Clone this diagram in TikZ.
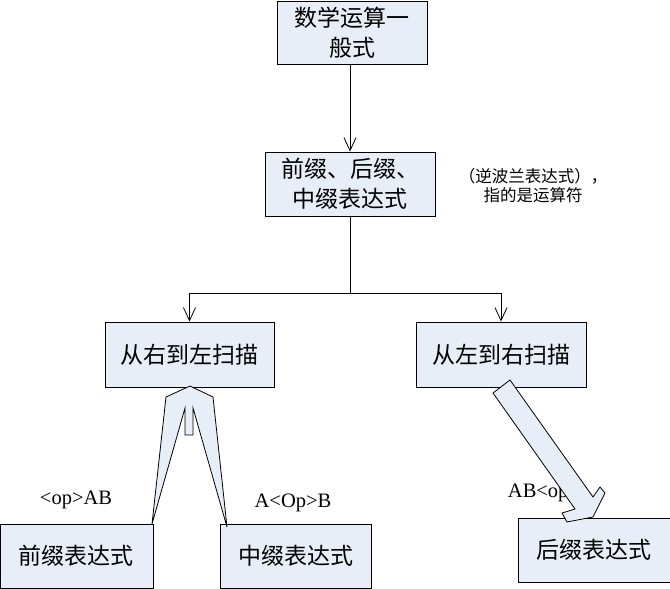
\documentclass[tikz,border=0pt]{standalone}
\usepackage{fontspec}
\setmainfont{Liberation Serif}
\newfontfamily\cjk{Noto Sans CJK SC}
\usetikzlibrary{arrows.meta,positioning}
\definecolor{boxblue}{RGB}{232,238,247}
\tikzset{%
	box/.style   = {draw, rectangle, fill=boxblue, line width=0.9pt, inner sep=0pt, align=center, font=\cjk\fontsize{23pt}{30pt}\selectfont},
	note/.style  = {align=center, font=\cjk\fontsize{16.5pt}{19pt}\selectfont},
	lbl/.style   = {font=\fontsize{20.5pt}{22pt}\selectfont},
	arrow/.style = {line width=0.8pt, -{Straight Barb[length=13pt,width=12pt]}},
	fat/.style   = {draw, fill=boxblue, line width=0.8pt, line join=miter},
}
\begin{document}
\begin{tikzpicture}[x=1pt,y=-1pt]
	\useasboundingbox (0,0) rectangle (670,589);
	
	\node[box, minimum width=150, minimum height=63] (top) at (352,32.5) {数学运算一\\般式};
	\node[box, minimum width=170, minimum height=64] (mid) at (350,184) {前缀、后缀、\\中缀表达式};
	\node[note] (remark) at (533,186) {（逆波兰表达式），\\指的是运算符};
	
	\node[box, minimum width=169, minimum height=65] (rl) at (189.5,354.5) {从右到左扫描};
	\node[box, minimum width=170, minimum height=65] (lr) at (501,354.5) {从左到右扫描};
	
	\node[box, minimum width=153, minimum height=64] (pre) at (76.5,556) {前缀表达式};
	\node[box, minimum width=151, minimum height=64] (inf) at (295.5,556) {中缀表达式};
	\node[box, minimum width=152, minimum height=64] (post) at (594,550) {后缀表达式};
	
	\node[lbl] (prelbl) at (76,500) {<op>AB};
	\node[lbl] (inflbl) at (293,503) {A<Op>B};
	\node[lbl] (postlbl) at (544,493) {AB<op>};
	
	% connectors
	\draw[arrow] (mid.north |- top.south) -- (mid.north);
	\draw[line width=0.8pt] (mid.south) -- ++(0,77) coordinate (split);
	\draw[arrow] (split) -| (rl.north);
	\draw[arrow] (split) -| (lr.north);
	
	% fork to prefix / infix
	\draw[fat] (190,386) -- (213,397) -- (227,527) -- (193,408) -- (193,435) -- (185,435) -- (185,408) -- (152,524) -- (166,397) -- cycle;
	
	% block arrow to postfix
	\draw[fat] (493,393) -- (510,380) -- (593,497) -- (600,487) -- (605,493) -- (593,517) -- (567,522) -- (562,513) -- (575,509) -- cycle;
\end{tikzpicture}
\end{document}
